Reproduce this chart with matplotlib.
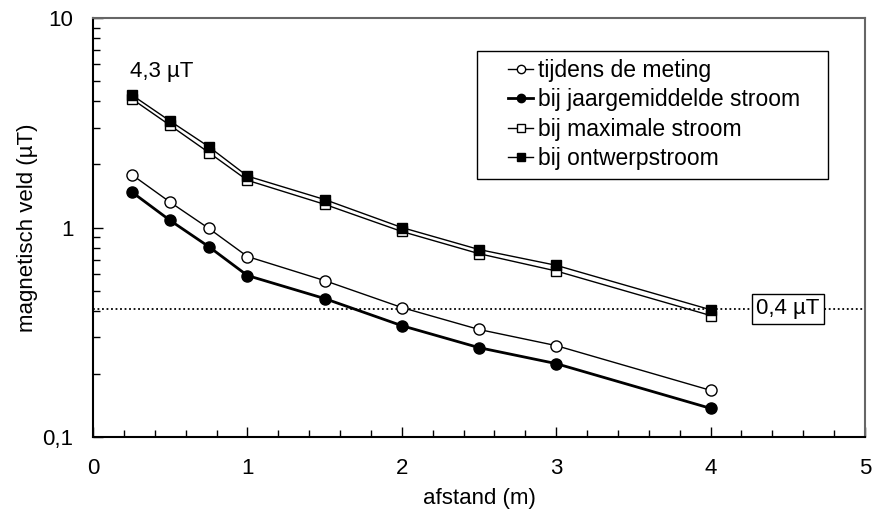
import matplotlib
matplotlib.use("Agg")
import matplotlib.pyplot as plt
from matplotlib.patches import Rectangle
from matplotlib.ticker import FixedLocator, FixedFormatter, LogLocator, NullFormatter, MultipleLocator

plt.rcParams['font.family'] = ['Liberation Sans', 'DejaVu Sans']

# afstand (m)
afstand = [0.25, 0.5, 0.75, 1.0, 1.5, 2.0, 2.5, 3.0, 4.0]

# magnetisch veld (uT) per scenario
tijdens_meting = [1.79, 1.32, 0.99, 0.727, 0.558, 0.415, 0.326, 0.273, 0.167]
jaargemiddeld = [1.48, 1.08, 0.81, 0.59, 0.458, 0.34, 0.267, 0.224, 0.137]
maximale_stroom = [4.12, 3.07, 2.28, 1.68, 1.29, 0.957, 0.75, 0.62, 0.38]
ontwerpstroom = [4.3, 3.22, 2.43, 1.76, 1.36, 1.0, 0.785, 0.66, 0.405]

grens = 0.41
grens_label = "0,4 µT"
max_label = "4,3 µT"

y_ticks = [0.1, 1, 10]
y_ticklabels = ["0,1", "1", "10"]

W, H = 874, 519
fig = plt.figure(figsize=(W / 100, H / 100), dpi=100)
ax = fig.add_axes([93 / W, 1 - 437 / H, (865 - 93) / W, (437 - 18) / H])

ax.axhline(grens, color='black', linestyle=(0, (1, 1.5)), linewidth=1.3, zorder=1)

ax.plot(afstand, tijdens_meting, color='black', linewidth=1, marker='o', markersize=8,
        markerfacecolor='white', markeredgecolor='black', label='tijdens de meting', zorder=3)
ax.plot(afstand, jaargemiddeld, color='black', linewidth=2, marker='o', markersize=8,
        markerfacecolor='black', label='bij jaargemiddelde stroom', zorder=3)
ax.plot(afstand, maximale_stroom, color='black', linewidth=1, marker='s', markersize=7,
        markerfacecolor='white', markeredgecolor='black', label='bij maximale stroom', zorder=3)
ax.plot(afstand, ontwerpstroom, color='black', linewidth=1, marker='s', markersize=7,
        markerfacecolor='black', label='bij ontwerpstroom', zorder=4)

ax.set_yscale('log')
ax.set_xlim(0, 5)
ax.set_ylim(0.1, 10)

ax.yaxis.set_major_locator(FixedLocator(y_ticks))
ax.yaxis.set_major_formatter(FixedFormatter(y_ticklabels))
ax.yaxis.set_minor_locator(LogLocator(base=10, subs=range(2, 10)))
ax.yaxis.set_minor_formatter(NullFormatter())
ax.xaxis.set_major_locator(MultipleLocator(1))
ax.xaxis.set_minor_locator(MultipleLocator(0.2))

ax.tick_params(which='both', direction='in', labelsize=16)
ax.tick_params(axis='x', which='both', pad=15, top=False)
ax.tick_params(axis='y', which='both', pad=14, right=False)
ax.tick_params(which='major', length=7, width=1)
ax.tick_params(which='minor', length=5, width=1)

for side in ['left', 'bottom']:
    ax.spines[side].set_linewidth(1.5)
for side in ['top', 'right']:
    ax.spines[side].set_color('#666666')
    ax.spines[side].set_linewidth(1.5)

ax.set_xlabel('afstand (m)', fontsize=16)
ax.xaxis.set_label_coords(0.5, (437 - 488) / 419)
ax.set_ylabel('magnetisch veld (µT)', fontsize=16)
ax.yaxis.set_label_coords((38 - 93) / 772, 0.5)

ax.text(0.24, 5.2, max_label, fontsize=16, ha='left', va='baseline')
ax.text(4.5, grens, grens_label, fontsize=16, ha='center', va='center', zorder=5,
        bbox=dict(boxstyle='square,pad=0.2', facecolor='white', edgecolor='black', linewidth=1))

# legend frame drawn separately so the padding matches
frame = Rectangle(((477 - 93) / 772, (437 - 179) / 419), (828 - 477) / 772, (179 - 51) / 419,
                  transform=ax.transAxes, facecolor='white', edgecolor='black',
                  linewidth=1, zorder=5)
ax.add_patch(frame)
leg = ax.legend(loc='upper left', bbox_to_anchor=((508 - 93) / 772, (437 - 59) / 419),
                fontsize=16.5, frameon=False, handlelength=1.1, handletextpad=0.2,
                borderpad=0, labelspacing=0.28, markerscale=0.75, borderaxespad=0)
leg.set_zorder(6)

fig.savefig('out.png', dpi=100)
